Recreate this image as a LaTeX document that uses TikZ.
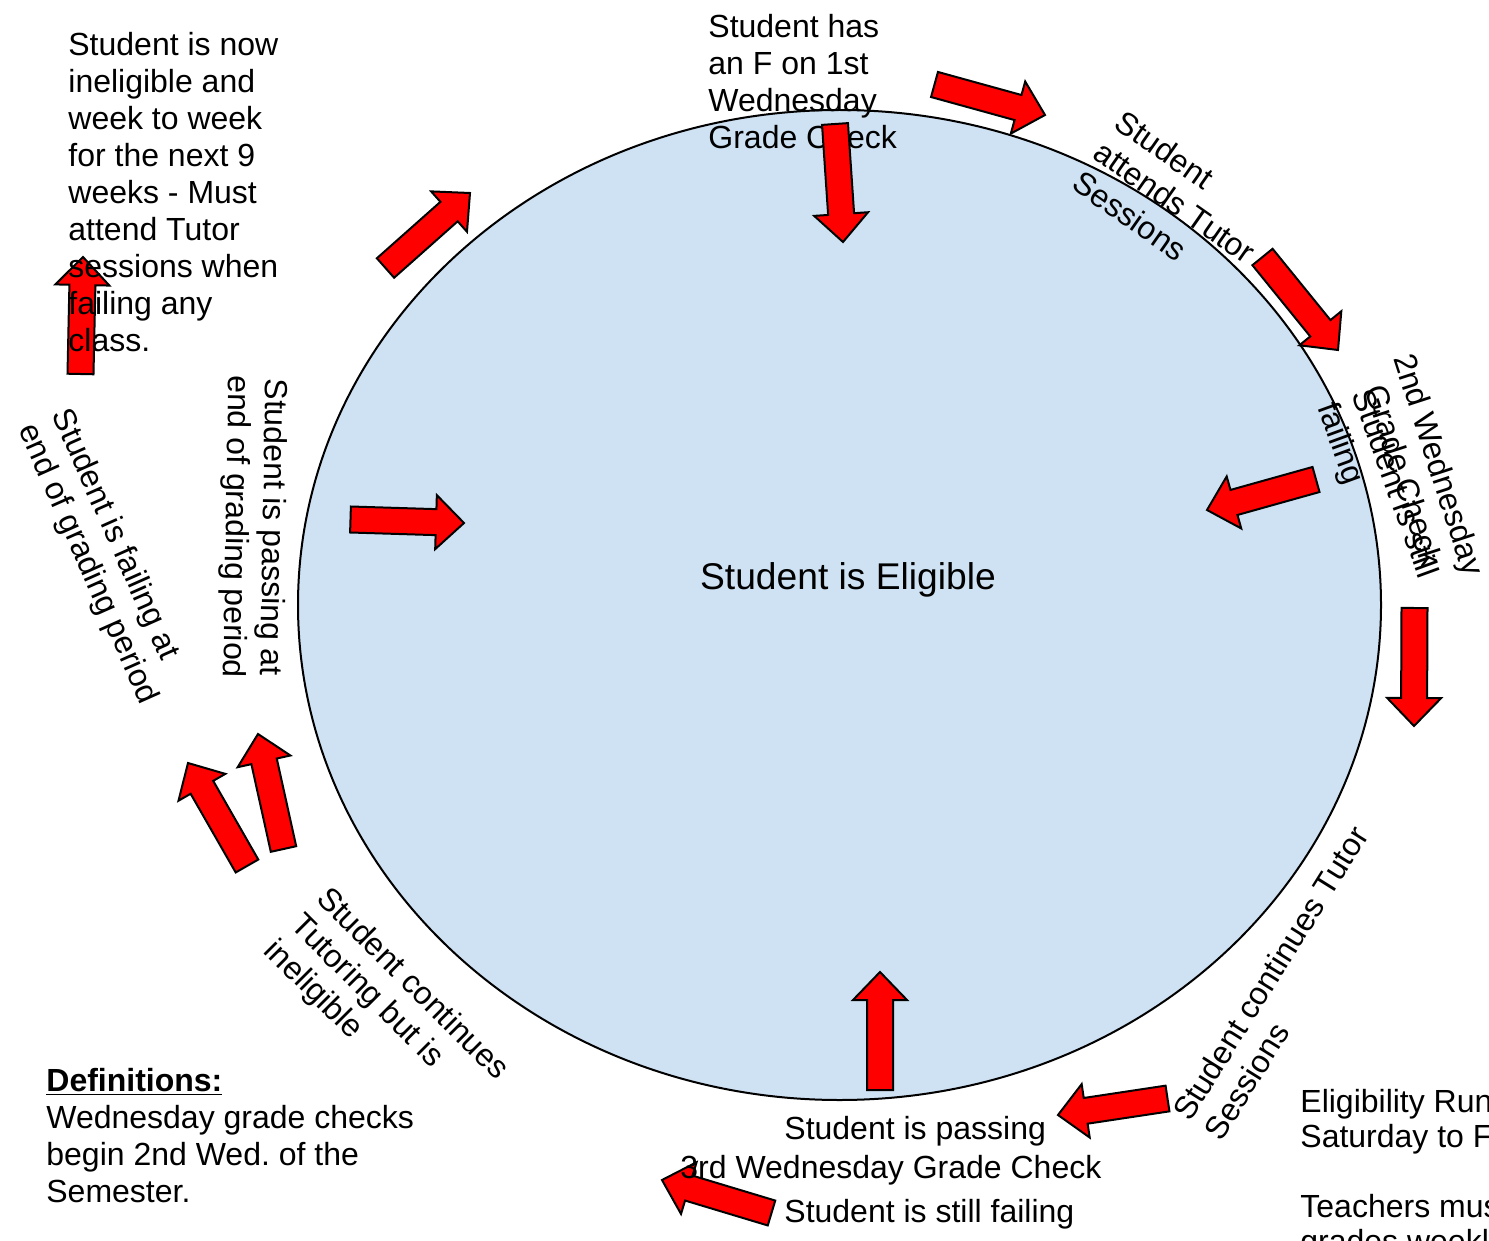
\documentclass[tikz,border=0pt]{standalone}
\usepackage{fontspec}
\setmainfont{Liberation Sans}
\usetikzlibrary{calc}
\frenchspacing
\definecolor{eligblue}{RGB}{207,226,243}
\definecolor{arrowred}{RGB}{255,0,0}
\tikzset{
  txt/.style={inner sep=0pt, font=\fontsize{16}{18.5}\selectfont},
  bigtxt/.style={inner sep=0pt, font=\fontsize{18.6}{21}\selectfont},
  blockarrow/.style={draw=black, fill=arrowred, line width=1pt, line join=miter},
  ellipsestyle/.style={draw=black, fill=eligblue, line width=1pt},
}
% #1 name, #2 tail coordinate, #3 tip coordinate
\newcommand\barrow[3]{%
  \coordinate (#1b) at ($(#3)!14pt!(#2)$);
  \draw[blockarrow] ($(#2)!6.5pt!90:(#3)$) -- ($(#1b)!6.5pt!-90:(#2)$) -- ($(#1b)!13.5pt!-90:(#2)$)
    -- (#3) -- ($(#1b)!13.5pt!90:(#2)$) -- ($(#1b)!6.5pt!90:(#2)$) -- ($(#2)!6.5pt!-90:(#3)$) -- cycle;
}
\begin{document}
\begin{tikzpicture}[x=0.5pt,y=-0.5pt]
\useasboundingbox (0,0) rectangle (1489,1241);
\clip (0,0) rectangle (1489,1241);

% central ellipse
\draw[ellipsestyle] (839.5,605) ellipse [x radius=270.75pt, y radius=247.5pt];

% arrows lying under text
\coordinate (a13t) at (80.5,374);   \coordinate (a13h) at (83,257);
\barrow{a13}{a13t}{a13h}
\coordinate (a8t) at (771.5,1213);  \coordinate (a8h) at (662,1180);
\barrow{a8}{a8t}{a8h}

% texts
\node[txt, anchor=north west, align=left] (ineligible) at (68,32)
  {Student is now\\ineligible and\\week to week\\for the next 9\\weeks - Must\\attend Tutor\\sessions when\\failing any\\class.};
\node[txt, anchor=north west, align=left] (fcheck) at (708,14)
  {Student has\\an F on 1st\\Wednesday\\Grade Check};
\node[bigtxt] (eligible) at (848,580) {Student is Eligible};

\node[txt, align=left, rotate=-35] (attends) at (1175,202)
  {Student\\attends Tutor\\Sessions};
\node[txt, align=center, rotate=-72] (second) at (1422,470)
  {2nd Wednesday\\Grade Check};
\node[txt, align=left, rotate=-70] (stillfail) at (1376,491)
  {Student is still\\failing};
\node[txt, align=left, rotate=58] (continues) at (1286,983)
  {Student continues Tutor\\Sessions};

\node[txt, anchor=base west] (passing) at (784,1139) {Student is passing};
\node[txt, anchor=base west] (third) at (680,1178) {3rd Wednesday Grade Check};
\node[txt, anchor=base west] (stillfailing) at (784,1222) {Student is still failing};

\node[txt, align=left, rotate=-45] (tutoring) at (385.5,1011)
  {Student continues\\Tutoring but is\\ineligible};
\node[txt, align=center, rotate=-91] (passend) at (253,527)
  {Student is passing at\\end of grading period};
\node[txt, align=left, rotate=-66] (failend) at (104,557)
  {Student is failing at\\end of grading period};

\node[txt, anchor=north west, align=left] (defs) at (46,1068)
  {{\bfseries\underline{Definitions:}}\\Wednesday grade checks\\begin 2nd Wed. of the\\Semester.};
\node[inner sep=0pt, font=\fontsize{16}{17.5}\selectfont, anchor=north west, align=left] (runs) at (1300,1089)
  {Eligibility Runs\\Saturday to Friday\\\mbox{}\\Teachers must post\\grades weekly};

% arrows over text
\coordinate (a1t) at (835,124);     \coordinate (a1h) at (843,242);
\barrow{a1}{a1t}{a1h}
\coordinate (a2t) at (934.5,84.5);  \coordinate (a2h) at (1045,115);
\barrow{a2}{a2t}{a2h}
\coordinate (a3t) at (1262.5,257);  \coordinate (a3h) at (1338,350);
\barrow{a3}{a3t}{a3h}
\coordinate (a4t) at (1316,479.5);  \coordinate (a4h) at (1207,510);
\barrow{a4}{a4t}{a4h}
\coordinate (a5t) at (1414.5,608);  \coordinate (a5h) at (1414,726);
\barrow{a5}{a5t}{a5h}
\coordinate (a6t) at (1167.5,1098.5); \coordinate (a6h) at (1058,1115);
\barrow{a6}{a6t}{a6h}
\coordinate (a7t) at (880,1090);    \coordinate (a7h) at (880,972);
\barrow{a7}{a7t}{a7h}
\coordinate (a9t) at (247,866);     \coordinate (a9h) at (188,763);
\barrow{a9}{a9t}{a9h}
\coordinate (a10t) at (283.5,849);  \coordinate (a10h) at (258,734);
\barrow{a10}{a10t}{a10h}
\coordinate (a11t) at (350.5,519.5); \coordinate (a11h) at (464,523);
\barrow{a11}{a11t}{a11h}
\coordinate (a12t) at (385.5,268);  \coordinate (a12h) at (470,193);
\barrow{a12}{a12t}{a12h}
\end{tikzpicture}
\end{document}
